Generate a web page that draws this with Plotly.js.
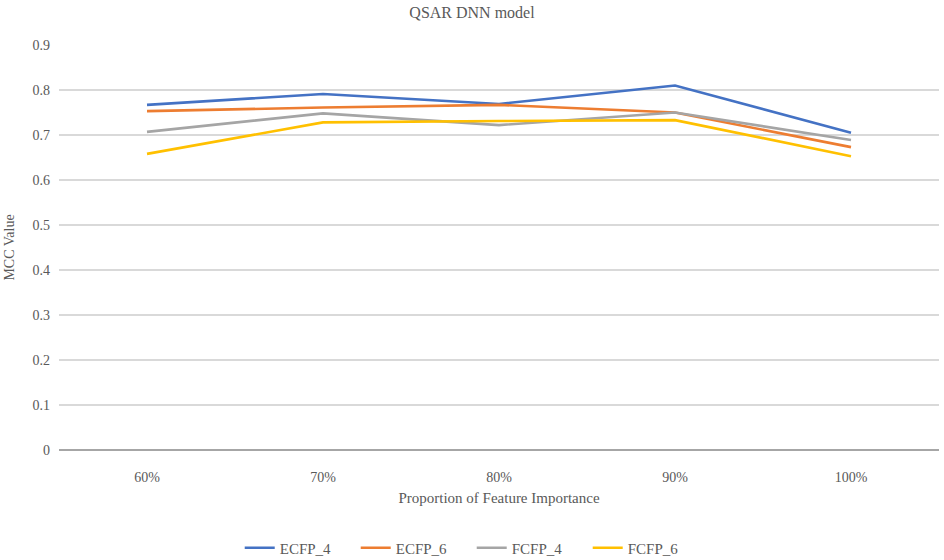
<!DOCTYPE html>
<html>
<head>
<meta charset="utf-8">
<script src="https://cdn.plot.ly/plotly-3.0.1.min.js"></script>
<style>html,body{margin:0;padding:0;background:#fff}#chart{width:944px;height:560px}</style>
</head>
<body>
<div id="chart"></div>
<script>
const categories = ["60%", "70%", "80%", "90%", "100%"];
const ecfp4 = [0.767, 0.791, 0.769, 0.810, 0.705];
const ecfp6 = [0.753, 0.761, 0.767, 0.750, 0.673];
const fcfp4 = [0.707, 0.748, 0.722, 0.750, 0.689];
const fcfp6 = [0.658, 0.728, 0.731, 0.733, 0.653];
const seriesNames = ["ECFP_4", "ECFP_6", "FCFP_4", "FCFP_6"];
const seriesColors = ["#4472C4", "#ED7D31", "#A5A5A5", "#FFC000"];
const yTicks = [0, 0.1, 0.2, 0.3, 0.4, 0.5, 0.6, 0.7, 0.8, 0.9];

const font = "Liberation Serif";
const tf = {family: font, size: 14, color: "#595959"};
const data = [ecfp4, ecfp6, fcfp4, fcfp6].map((v, i) => ({
  type: "scatter", mode: "lines", x: categories, y: v, name: seriesNames[i],
  line: {color: seriesColors[i], width: 2.6}
}));
const layout = {
  width: 944, height: 560,
  margin: {l: 59, r: 5, t: 45, b: 110, autoexpand: false},
  paper_bgcolor: "#fff", plot_bgcolor: "#fff",
  font: tf,
  title: {text: "QSAR DNN model", x: 0.5, xanchor: "center", y: 0.978, yanchor: "middle", font: {family: font, size: 16, color: "#595959"}},
  xaxis: {
    type: "category", range: [-0.5, 4.5], showgrid: false, zeroline: false, automargin: false,
    showline: false, ticks: "", ticklabelstandoff: 17, tickfont: tf,
    title: {text: "Proportion of Feature Importance", standoff: 8, font: {family: font, size: 15, color: "#595959"}}
  },
  yaxis: {
    range: [0, 0.9], tickvals: yTicks, ticktext: yTicks.map(v => v === 0 ? "0" : v.toFixed(1)), automargin: false,
    showgrid: true, gridcolor: "#d9d9d9", gridwidth: 1.3, zeroline: true, zerolinecolor: "#a6a6a6", zerolinewidth: 2,
    ticks: "", ticklabelstandoff: 8, tickfont: tf,
    title: {text: "MCC Value", standoff: 14, font: {family: font, size: 14, color: "#595959"}}
  },
  showlegend: true,
  legend: {orientation: "h", x: 0.469, xanchor: "center", y: -0.242, yanchor: "middle",
    font: {family: font, size: 15, color: "#595959"}, itemwidth: 30, traceorder: "normal",
    entrywidth: 71, entrywidthmode: "pixels"}
};
Plotly.newPlot("chart", data, layout, {displayModeBar: false, staticPlot: true});
</script>
</body>
</html>
